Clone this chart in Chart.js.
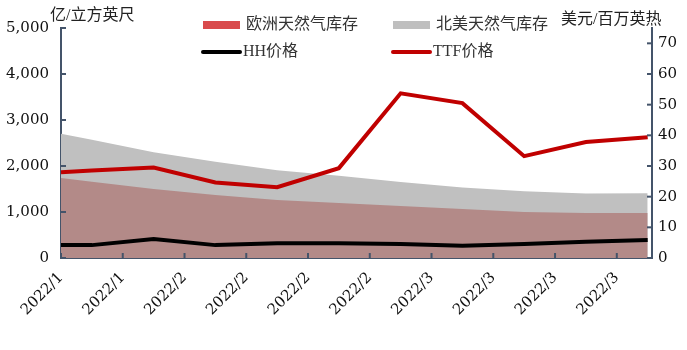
<!DOCTYPE html>
<html><head><meta charset="utf-8">
<script src="https://cdn.jsdelivr.net/npm/chart.js@4.4.0/dist/chart.umd.min.js"></script>
<style>html,body{margin:0;padding:0;background:#fff;}</style>
</head><body>
<canvas id="c" width="687" height="350"></canvas>
<script>
// ---- data ----
const tickLabels = ['2022/1','2022/1','2022/2','2022/2','2022/2','2022/2','2022/3','2022/3','2022/3','2022/3'];
const weekPos   = [0, 0.5, 1.5, 2.5, 3.5, 4.5, 5.5, 6.5, 7.5, 8.5, 9.5];
const euStorage = [1740, 1660, 1500, 1370, 1260, 1195, 1130, 1065, 1000, 980, 980];
const naStorage = [2700, 2570, 2300, 2090, 1910, 1790, 1650, 1530, 1450, 1400, 1410];
const hhPrice   = [4.2, 4.2, 6.2, 4.2, 4.8, 4.8, 4.6, 4.0, 4.6, 5.3, 5.9];
const ttfPrice  = [28.0, 28.5, 29.5, 24.6, 23.1, 29.3, 53.7, 50.5, 33.2, 37.8, 39.4];
const leftTicks  = [0, 1000, 2000, 3000, 4000, 5000];
const rightTicks = [0, 10, 20, 30, 40, 50, 60, 70];
const seriesNames = ['欧洲天然气库存', '北美天然气库存', 'HH价格', 'TTF价格'];
const leftTitle = '亿/立方英尺';
const rightTitle = '美元/百万英热';

const AXIS = '#44546a';
const TICKFONT = {family: '"DejaVu Serif", "Liberation Serif", serif', size: 15};
const pts = arr => weekPos.map((x, i) => ({x, y: arr[i]}));

const deco = {
  id: 'deco',
  afterDraw(chart) {
    const {ctx, chartArea: a, scales} = chart;
    ctx.save();
    ctx.strokeStyle = AXIS; ctx.lineWidth = 2;
    const ln = (x1, y1, x2, y2) => { ctx.beginPath(); ctx.moveTo(x1, y1); ctx.lineTo(x2, y2); ctx.stroke(); };
    scales.y.ticks.forEach(t => { const p = scales.y.getPixelForValue(t.value); ln(a.left, p, a.left + 5, p); });
    scales.y1.ticks.forEach(t => { const p = scales.y1.getPixelForValue(t.value); ln(a.right - 5, p, a.right, p); });
    scales.x.ticks.forEach(t => { const p = scales.x.getPixelForValue(t.value); ln(p, a.bottom, p, a.bottom - 5); });

    ctx.fillStyle = '#222';
    ctx.textBaseline = 'middle';
    ctx.textAlign = 'left';
    ctx.font = '16px "Liberation Serif", "Noto Sans CJK SC"';
    ctx.fillText(leftTitle, 50, 16);
    ctx.fillText(rightTitle, 561, 20);

    // legend
    const ds = chart.data.datasets;
    const items = [
      {i: 0, x: 203, y: 25, kind: 'box', color: '#d94a4c'},
      {i: 1, x: 393, y: 25, kind: 'box', color: '#bfbfbf'},
      {i: 2, x: 203, y: 52, kind: 'line', color: '#000000'},
      {i: 3, x: 393, y: 52, kind: 'line', color: '#c00000'}
    ];
    items.forEach(it => {
      if (it.kind === 'box') {
        ctx.fillStyle = it.color;
        ctx.fillRect(it.x, it.y - 4, 37, 8);
      } else {
        ctx.strokeStyle = it.color; ctx.lineWidth = 4; ctx.lineCap = 'round';
        ln(it.x, it.y, it.x + 37, it.y);
      }
      ctx.fillStyle = '#333';
      ctx.fillText(ds[it.i].label, it.x + (it.kind === 'box' ? 43 : 40), it.y);
    });
    ctx.restore();
  }
};

new Chart(document.getElementById('c'), {
  type: 'line',
  data: {
    datasets: [
      {label: seriesNames[0], data: pts(euStorage), yAxisID: 'y', fill: 'origin',
       backgroundColor: '#b38a88', borderColor: 'transparent', borderWidth: 0, pointRadius: 0, order: 3},
      {label: seriesNames[1], data: pts(naStorage), yAxisID: 'y', fill: 'origin',
       backgroundColor: '#c0c0c0', borderColor: 'transparent', borderWidth: 0, pointRadius: 0, order: 4},
      {label: seriesNames[2], data: pts(hhPrice), yAxisID: 'y1', fill: false,
       borderColor: '#000000', borderWidth: 4, pointRadius: 0, order: 2},
      {label: seriesNames[3], data: pts(ttfPrice), yAxisID: 'y1', fill: false,
       borderColor: '#c00000', borderWidth: 4, pointRadius: 0, order: 1}
    ]
  },
  options: {
    responsive: false,
    animation: false,
    layout: {padding: {top: 28, left: 0, right: 0, bottom: 0}},
    plugins: {legend: {display: false}, tooltip: {enabled: false}},
    scales: {
      x: {
        type: 'linear', min: 0, max: 9.57,
        afterBuildTicks: s => { s.ticks = tickLabels.map((_, i) => ({value: i})); },
        afterFit: s => { s.height = 92; },
        ticks: {autoSkip: false, minRotation: 45, maxRotation: 45, padding: 11,
                font: TICKFONT, color: '#111', callback: (v, i) => tickLabels[i]},
        grid: {display: false, drawTicks: false},
        border: {color: AXIS, width: 2}
      },
      y: {
        position: 'left', min: 0, max: 5000,
        afterBuildTicks: s => { s.ticks = leftTicks.map(v => ({value: v})); },
        afterFit: s => { s.width = 61; },
        ticks: {autoSkip: false, padding: 12, font: TICKFONT, color: '#111',
                callback: v => v.toLocaleString('en-US')},
        grid: {display: false, drawTicks: false},
        border: {color: AXIS, width: 2}
      },
      y1: {
        position: 'right', min: 0, max: 75,
        afterBuildTicks: s => { s.ticks = rightTicks.map(v => ({value: v})); },
        afterFit: s => { s.width = 35; },
        ticks: {autoSkip: false, padding: 6, font: TICKFONT, color: '#111'},
        grid: {display: false, drawTicks: false},
        border: {color: AXIS, width: 2}
      }
    }
  },
  plugins: [deco]
});
</script>
</body></html>
